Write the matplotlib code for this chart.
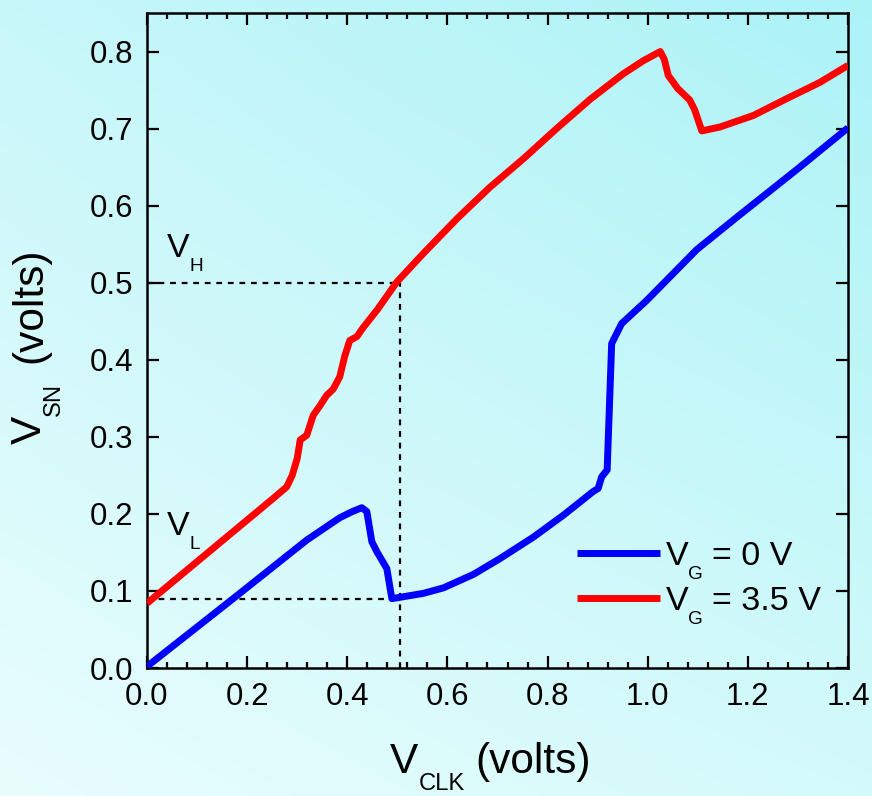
import numpy as np
import matplotlib
matplotlib.use("Agg")
import matplotlib.pyplot as plt
from matplotlib.text import Annotation
from matplotlib.ticker import MultipleLocator

plt.rcParams['font.family'] = ['Liberation Sans', 'DejaVu Sans']

# V_G = 0 V sweep
v_clk_g0 = [0.0, 0.172, 0.319, 0.385, 0.41, 0.429, 0.439, 0.449, 0.459, 0.479,
            0.489, 0.505, 0.552, 0.592, 0.652, 0.705, 0.772, 0.831, 0.891, 0.901,
            0.908, 0.919, 0.928, 0.948, 0.998, 1.098, 1.178, 1.30, 1.40]
v_sn_g0 = [0.002, 0.090, 0.166, 0.195, 0.203, 0.208, 0.203, 0.164, 0.151, 0.129,
           0.090, 0.0917, 0.0969, 0.104, 0.1215, 0.142, 0.170, 0.198, 0.229, 0.233,
           0.248, 0.257, 0.421, 0.447, 0.477, 0.543, 0.585, 0.648, 0.701]

# V_G = 3.5 V sweep
v_clk_g35 = [0.0, 0.05, 0.10, 0.15, 0.20, 0.25, 0.279, 0.29, 0.30, 0.306, 0.319,
             0.332, 0.345, 0.359, 0.372, 0.385, 0.395, 0.405, 0.419, 0.432, 0.46,
             0.499, 0.552, 0.619, 0.685, 0.752, 0.818, 0.885, 0.951, 0.991, 1.025,
             1.033, 1.041, 1.06, 1.084, 1.094, 1.108, 1.144, 1.211, 1.278, 1.344,
             1.40]
v_sn_g35 = [0.084, 0.111, 0.138, 0.165, 0.192, 0.219, 0.235, 0.250, 0.272, 0.296,
            0.302, 0.328, 0.340, 0.354, 0.362, 0.378, 0.405, 0.425, 0.430, 0.442,
            0.465, 0.501, 0.538, 0.583, 0.624, 0.661, 0.700, 0.738, 0.771, 0.788,
            0.800, 0.790, 0.769, 0.752, 0.737, 0.724, 0.697, 0.702, 0.717, 0.739,
            0.760, 0.782]

# operating point markers
v_clk_op = 0.505
v_high = 0.5
v_low = 0.089

x_ticks = [0.0, 0.2, 0.4, 0.6, 0.8, 1.0, 1.2, 1.4]
y_ticks = [0.0, 0.1, 0.2, 0.3, 0.4, 0.5, 0.6, 0.7, 0.8]

SUB_SCALE = 0.56

fig = plt.figure(figsize=(8.72, 7.96), dpi=100)

# soft diagonal cyan backdrop
bg = fig.add_axes([0, 0, 1, 1], zorder=-10)
ny, nx = 200, 220
u = np.linspace(0, 1, nx)[None, :, None]
v = np.linspace(0, 1, ny)[:, None, None]
tl = np.array([200, 247, 250]) / 255
tr = np.array([172, 243, 247]) / 255
bl = np.array([233, 253, 253]) / 255
br = np.array([212, 250, 251]) / 255
img = (1 - v) * ((1 - u) * tl + u * tr) + v * ((1 - u) * bl + u * br)
bg.imshow(img, aspect='auto', extent=[0, 1, 0, 1], interpolation='bilinear')
bg.axis('off')

ax = fig.add_axes([147 / 872, 1 - 668 / 796, 701 / 872, 655 / 796])
ax.patch.set_alpha(0)

line_g0, = ax.plot(v_clk_g0, v_sn_g0, color='#0000ff', lw=5, solid_joinstyle='round',
                   solid_capstyle='butt', zorder=3)
line_g35, = ax.plot(v_clk_g35, v_sn_g35, color='#ff0000', lw=5, solid_joinstyle='round',
                    solid_capstyle='butt', zorder=3)

dash = dict(color='black', lw=1.6, dashes=(2.6, 2.6), zorder=2)
ax.plot([0, v_clk_op], [v_high, v_high], **dash)
ax.plot([0, v_clk_op], [v_low, v_low], **dash)
ax.plot([v_clk_op, v_clk_op], [0, v_high], **dash)

ax.set_xlim(0, 1.4)
ax.set_ylim(0, 0.85)
ax.set_xticks(x_ticks)
ax.set_xticklabels([f"{t:.1f}" for t in x_ticks])
ax.set_yticks(y_ticks)
ax.set_yticklabels([f"{t:.1f}" for t in y_ticks])
ax.xaxis.set_minor_locator(MultipleLocator(0.04))

ax.tick_params(which='both', direction='in', top=True, right=True, width=1.6,
               labelsize=22.5, colors='black')
ax.tick_params(which='major', length=8.5)
ax.tick_params(axis='x', which='major', pad=10)
ax.tick_params(axis='y', which='major', pad=10)
ax.tick_params(which='minor', length=4.5)
for s in ax.spines.values():
    s.set_linewidth(1.8)


def attach_sub(main, sub, rest, size, rotation=0, gap=6, drop=0.17):
    """Hang a lowered subscript and trailing text off a main text artist."""
    shift = drop * size
    if rotation == 0:
        t_sub = Annotation(sub, xy=(1, 0), xycoords=main, xytext=(0, shift),
                           textcoords='offset points', ha='left', va='top',
                           fontsize=size * SUB_SCALE)
    else:
        t_sub = Annotation(sub, xy=(1, 1), xycoords=main, xytext=(-shift, 0),
                           textcoords='offset points', ha='left', va='bottom',
                           rotation=90, fontsize=size * SUB_SCALE)
    fig.add_artist(t_sub)
    if rest:
        if rotation == 0:
            t_rest = Annotation(rest, xy=(1, 0), xycoords=(t_sub, main),
                                xytext=(gap, 0), textcoords='offset points',
                                ha='left', va='bottom', fontsize=size)
        else:
            t_rest = Annotation(rest, xy=(1, 1), xycoords=(main, t_sub),
                                xytext=(0, gap), textcoords='offset points',
                                ha='right', va='bottom', rotation=90, fontsize=size)
        fig.add_artist(t_rest)


# axis titles
xl = fig.text(390 / 872, 1 - 773 / 796, 'V', fontsize=30.5, ha='left', va='baseline')
attach_sub(xl, 'CLK', '(volts)', 30.5, gap=8, drop=0.21)
yl = fig.text(10 / 872, 1 - 444 / 796, 'V', fontsize=30.5, ha='left', va='bottom',
              rotation=90)
attach_sub(yl, 'SN', '(volts)', 30.5, rotation=90, gap=14)

# level labels
vh = ax.text(0.040, 0.533, 'V', fontsize=24.5, ha='left', va='baseline')
attach_sub(vh, 'H', '', 24.5)
vl = ax.text(0.040, 0.1725, 'V', fontsize=24.5, ha='left', va='baseline')
attach_sub(vl, 'L', '', 24.5)

leg = ax.legend([line_g0, line_g35], ['V', 'V'], loc='upper left',
                bbox_to_anchor=(0.613, 0.1944), frameon=False, fontsize=24.5,
                handlelength=2.44, handletextpad=0.18, labelspacing=0.42,
                borderpad=0, borderaxespad=0)
for txt, rest in zip(leg.get_texts(), ['= 0 V', '= 3.5 V']):
    attach_sub(txt, 'G', rest, 24.5, gap=6)

fig.savefig('out.png', dpi=100)
